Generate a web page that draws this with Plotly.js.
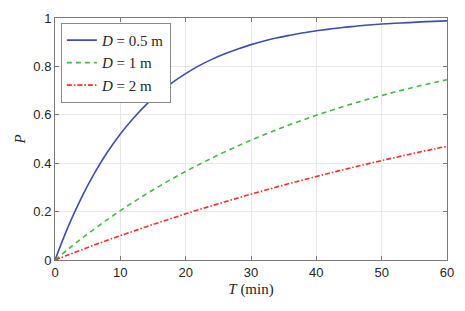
<!DOCTYPE html>
<html><head><meta charset="utf-8">
<script src="https://cdn.plot.ly/plotly-3.0.1.min.js"></script>
<style>html,body{margin:0;padding:0;background:#fff;}#c{width:465px;height:311px;}</style>
</head><body><div id="c"></div>
<script>
var T = [0,2,4,6,8,10,12,14,16,18,20,22,24,26,28,30,32,34,36,38,40,42,44,46,48,50,52,54,56,58,60];
var P_05 = [0,0.137,0.255,0.357,0.445,0.521,0.586,0.643,0.692,0.734,0.770,0.802,0.829,0.852,0.872,0.890,0.905,0.918,0.929,0.939,0.947,0.954,0.961,0.966,0.971,0.975,0.978,0.981,0.984,0.986,0.988];
var P_1 = [0,0.0445,0.0871,0.1277,0.1666,0.2037,0.2392,0.2731,0.3054,0.3364,0.3659,0.3942,0.4212,0.4469,0.4716,0.4951,0.5176,0.5391,0.5596,0.5792,0.5980,0.6159,0.6330,0.6493,0.6649,0.6799,0.6941,0.7078,0.7208,0.7332,0.7451];
var P_2 = [0,0.0209,0.0414,0.0615,0.0812,0.1004,0.1192,0.1377,0.1557,0.1734,0.1907,0.2077,0.2243,0.2405,0.2564,0.2720,0.2872,0.3022,0.3168,0.3311,0.3451,0.3588,0.3722,0.3854,0.3983,0.4109,0.4232,0.4353,0.4471,0.4587,0.4700];
var names = ['<i>D</i> = 0.5 m','<i>D</i> = 1 m','<i>D</i> = 2 m'];
var xTicks = [0,10,20,30,40,50,60];
var yTicks = [0,0.2,0.4,0.6,0.8,1];

var traces = [
  {x:T, y:P_05, name:names[0], mode:'lines', line:{color:'#3f4ea8', width:1.6, dash:'solid', shape:'spline'}},
  {x:T, y:P_1, name:names[1], mode:'lines', line:{color:'#44b944', width:1.6, dash:'5px,4px', shape:'spline'}},
  {x:T, y:P_2, name:names[2], mode:'lines', line:{color:'#ff2b2b', width:1.6, dash:'5px,2px,1.5px,2px', shape:'spline'}}
];
var axCommon = {
  showline:true, mirror:'ticks', linecolor:'#7a7a7a', linewidth:1,
  ticks:'inside', ticklen:4, tickcolor:'#7a7a7a',
  showgrid:true, gridcolor:'#e8e8e8', gridwidth:1, zeroline:false,
  tickfont:{family:'Liberation Sans, Arial, sans-serif', size:13, color:'#262626'}
};
var layout = {
  width:465, height:311,
  margin:{l:55, r:18, t:18, b:51},
  paper_bgcolor:'#fff', plot_bgcolor:'#fff',
  showlegend:true,
  xaxis:Object.assign({}, axCommon, {range:[0,60], tickvals:xTicks, ticktext:xTicks.map(String),
    title:{text:'<i>T</i> (min)', font:{family:'Liberation Serif, DejaVu Serif, serif', size:15, color:'#262626'}, standoff:4}}),
  yaxis:Object.assign({}, axCommon, {range:[0,1], tickvals:yTicks, ticktext:yTicks.map(String),
    title:{text:'<i>P</i>', font:{family:'Liberation Serif, DejaVu Serif, serif', size:15, color:'#262626'}, standoff:4}}),
  legend:{x:0.015, y:0.98, xanchor:'left', yanchor:'top', bgcolor:'#fff', bordercolor:'#8a8a8a', borderwidth:1,
    itemwidth:30, font:{family:'Liberation Serif, DejaVu Serif, serif', size:15, color:'#262626'}, tracegroupgap:0}
};
Plotly.newPlot('c', traces, layout, {staticPlot:true, displayModeBar:false});
</script></body></html>
